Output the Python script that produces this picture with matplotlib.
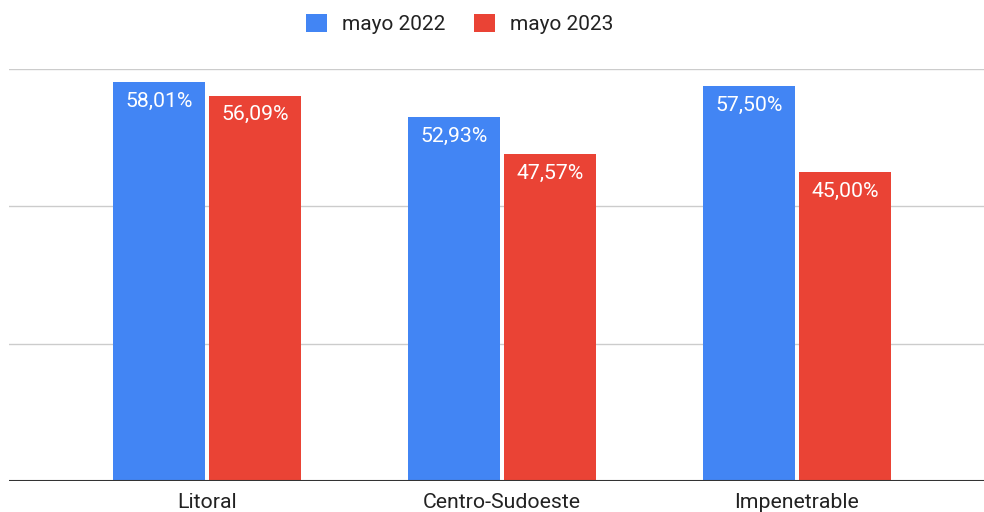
import numpy as np
import matplotlib.pyplot as plt
from matplotlib.patches import Patch

plt.rcParams["font.family"] = ["Roboto", "DejaVu Sans"]

# ==== DATOS ====
regiones = ["Litoral", "Centro-Sudoeste", "Impenetrable"]
mayo_2022 = [58.01, 52.93, 57.50]
mayo_2023 = [56.09, 47.57, 45.00]
series = ["mayo 2022", "mayo 2023"]

azul = "#4285F4"
rojo = "#EA4335"

fig = plt.figure(figsize=(9.84, 5.12), dpi=100)
ax = fig.add_axes([0.00915, 0.0596, 0.99085, 0.806])

x = np.arange(len(regiones))
ancho = 0.312
desp = 0.163

b1 = ax.bar(x - desp, mayo_2022, ancho, color=azul, zorder=3)
b2 = ax.bar(x + desp, mayo_2023, ancho, color=rojo, zorder=3)

# etiquetas dentro de las barras
for barras, vals in [(b1, mayo_2022), (b2, mayo_2023)]:
    for b, v in zip(barras, vals):
        etiqueta = f"{v:.2f}%".replace(".", ",")
        ax.annotate(etiqueta, (b.get_x() + b.get_width() / 2, v),
                    xytext=(0, -19), textcoords="offset pixels",
                    ha="center", va="center", color="white", fontsize=15.3, zorder=4)

ax.set_xlim(-0.671, 2.634)
ax.set_ylim(0, 60)
ax.set_yticks([0, 20, 40, 60])
ax.set_yticklabels([])
ax.tick_params(axis="y", length=0)
ax.grid(axis="y", color="#cccccc", linewidth=1, zorder=0)
ax.axhline(0, color="#333333", linewidth=1.5, zorder=5)

ax.set_xticks(x)
ax.set_xticklabels(regiones, fontsize=15.3, color="#222222")
ax.tick_params(axis="x", length=0, pad=8)

for s in ax.spines.values():
    s.set_visible(False)

handles = [Patch(facecolor=azul, label=series[0]), Patch(facecolor=rojo, label=series[1])]
fig.legend(handles=handles, loc="center", bbox_to_anchor=(0.467, 0.953), ncol=2,
           frameon=False, fontsize=15, handlelength=1.0, handleheight=1.0,
           handletextpad=0.72, columnspacing=1.4, labelcolor="#222222")

fig.savefig("out.png", dpi=100)
